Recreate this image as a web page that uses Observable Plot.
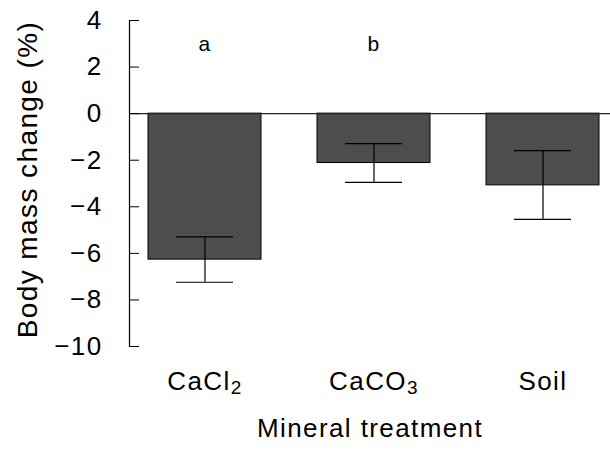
<!DOCTYPE html>
<html>
<head>
<meta charset="utf-8">
<script src="https://cdn.jsdelivr.net/npm/d3@7"></script>
<script src="https://cdn.jsdelivr.net/npm/@observablehq/plot@0.6"></script>
<style>
  html, body { margin: 0; padding: 0; background: #fff; }
  svg { font-family: "Liberation Sans", Arial, Helvetica, sans-serif; }
</style>
</head>
<body>
<div id="chart"></div>
<script>
const categories = ["CaCl2", "CaCO3", "Soil"];
const means = [-6.27, -2.12, -3.08];
const errLow = [-7.24, -2.95, -4.54];
const errHigh = [-5.29, -1.29, -1.59];
const letters = ["a", "b", ""];
const letterY = 3;
const yTicks = [4, 2, 0, -2, -4, -6, -8, -10];

const data = categories.map((c, i) => ({
  cat: c, mean: means[i], lo: errLow[i], hi: errHigh[i], letter: letters[i]
}));

const chart = Plot.plot({
  width: 610,
  height: 453,
  marginLeft: 129,
  marginRight: 0,
  marginTop: 20,
  marginBottom: 107,
  style: {fontFamily: '"Liberation Sans", Arial, Helvetica, sans-serif', background: "#fff"},
  x: {domain: categories, paddingInner: 0.331, paddingOuter: 0.086, align: 0.62, label: null},
  y: {domain: [-10, 4], label: null},
  marks: [
    Plot.frame({anchor: "left", stroke: "#000", strokeWidth: 1.2}),
    Plot.barY(data, {x: "cat", y: "mean", fill: "#4d4d4d", stroke: "#000", strokeWidth: 1}),
    Plot.ruleY([0], {stroke: "#222", strokeWidth: 1.2}),
    Plot.ruleX(data, {x: "cat", y1: "lo", y2: "hi", stroke: "#000", strokeWidth: 1.2}),
    Plot.tickY(data, {x: "cat", y: "lo", stroke: "#000", strokeWidth: 1.2, insetLeft: 28, insetRight: 28}),
    Plot.tickY(data, {x: "cat", y: "hi", stroke: "#000", strokeWidth: 1.2, insetLeft: 28, insetRight: 28}),
    Plot.text(data.filter(d => d.letter), {x: "cat", y: () => letterY, text: "letter", fontSize: 21, fill: "#000"}),
    Plot.axisY({ticks: yTicks, tickSize: -10, tickPadding: 37, fontSize: 26, stroke: "#000", color: "#000", label: null}),
    Plot.axisX({tickSize: 0, tickPadding: 25, fontSize: 26, color: "#000", label: null}),
    Plot.text(["Mineral treatment"], {frameAnchor: "bottom", dy: 90, fontSize: 26, fill: "#000"}),
    Plot.text(["Body mass change (%)"], {frameAnchor: "left", textAnchor: "middle", rotate: -90, dx: -101, dy: -4, fontSize: 28, fill: "#000"})
  ]
});

chart.querySelectorAll('g[aria-label="y-axis tick label"] text, g[aria-label="x-axis tick label"] text, g[aria-label="text"] text').forEach(t => {
  t.setAttribute("letter-spacing", "1.4");
});

// subscripts for chemical formulas in tick labels
chart.querySelectorAll('g[aria-label="x-axis tick label"] text').forEach(t => {
  const s = t.textContent;
  const m = s.match(/^(.*?)(\d)$/);
  if (m) {
    t.textContent = m[1];
    const ts = document.createElementNS("http://www.w3.org/2000/svg", "tspan");
    ts.setAttribute("font-size", "19");
    ts.setAttribute("dy", "4");
    ts.textContent = m[2];
    t.appendChild(ts);
  }
});

document.getElementById("chart").appendChild(chart);
</script>
</body>
</html>
